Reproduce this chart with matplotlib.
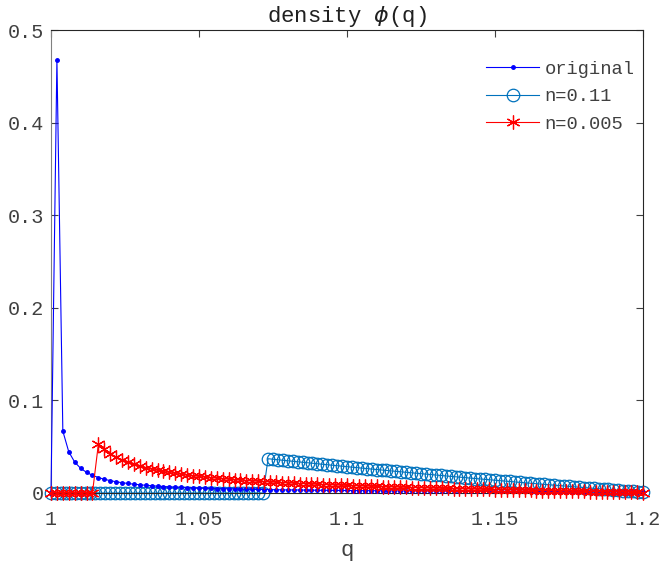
import numpy as np
import matplotlib
matplotlib.use("Agg")
import matplotlib.pyplot as plt

# q grids (step 0.002 for original / n=0.005, step 1/600 for n=0.11)
q_orig = np.linspace(1.0, 1.2, 101)
q_red = np.linspace(1.0, 1.2, 101)
q_blue = np.linspace(1.0, 1.2, 121)

phi_orig = [
    0.0, 0.468, 0.0668, 0.0445, 0.0334, 0.0267, 0.0223, 0.0191, 0.0167, 0.0148,
    0.0134, 0.0121, 0.0111, 0.0103, 0.0095, 0.0089, 0.0083, 0.0079, 0.0074, 0.0070,
    0.0067, 0.0064, 0.0061, 0.0058, 0.0056, 0.0053, 0.0051, 0.0049, 0.0048, 0.0046,
    0.0045, 0.0043, 0.0042, 0.0040, 0.0039, 0.0038, 0.0037, 0.0036, 0.0035, 0.0034,
    0.0033, 0.0033, 0.0032, 0.0031, 0.0030, 0.0030, 0.0029, 0.0028, 0.0028, 0.0027,
    0.0027, 0.0026, 0.0026, 0.0025, 0.0025, 0.0024, 0.0024, 0.0023, 0.0023, 0.0023,
    0.0022, 0.0022, 0.0022, 0.0021, 0.0021, 0.0021, 0.0020, 0.0020, 0.0020, 0.0019,
    0.0019, 0.0019, 0.0019, 0.0018, 0.0018, 0.0018, 0.0018, 0.0017, 0.0017, 0.0017,
    0.0017, 0.0016, 0.0016, 0.0016, 0.0016, 0.0016, 0.0016, 0.0015, 0.0015, 0.0015,
    0.0015, 0.0015, 0.0015, 0.0014, 0.0014, 0.0014, 0.0014, 0.0014, 0.0014, 0.0013,
    0.0013,
]

phi_n011 = [0.0] * 44 + [
    0.0370, 0.03645, 0.03590, 0.03535, 0.03481, 0.03426, 0.03372, 0.03318, 0.03265, 0.03211,
    0.03158, 0.03105, 0.03052, 0.02999, 0.02947, 0.02894, 0.02842, 0.02791, 0.02739, 0.02688,
    0.02636, 0.02585, 0.02535, 0.02484, 0.02433, 0.02383, 0.02333, 0.02284, 0.02234, 0.02185,
    0.02136, 0.02087, 0.02038, 0.01989, 0.01941, 0.01893, 0.01845, 0.01797, 0.01750, 0.01703,
    0.01656, 0.01609, 0.01562, 0.01516, 0.01470, 0.01424, 0.01378, 0.01332, 0.01287, 0.01242,
    0.01197, 0.01152, 0.01107, 0.01063, 0.01019, 0.00975, 0.00931, 0.00888, 0.00844, 0.00801,
    0.00758, 0.00716, 0.00673, 0.00631, 0.00589, 0.00547, 0.00505, 0.00464, 0.00422, 0.00381,
    0.00341, 0.00300, 0.00260, 0.00219, 0.00179, 0.00140, 0.00100,
]

phi_n0005 = [0.0] * 8 + [
    0.0526, 0.04705, 0.04260, 0.03895, 0.03589, 0.03329, 0.03105, 0.02910, 0.02739, 0.02586,
    0.02450, 0.02328, 0.02216, 0.02115, 0.02023, 0.01937, 0.01859, 0.01786, 0.01717, 0.01654,
    0.01594, 0.01539, 0.01486, 0.01436, 0.01389, 0.01345, 0.01302, 0.01262, 0.01223, 0.01186,
    0.01151, 0.01116, 0.01084, 0.01052, 0.01022, 0.00993, 0.00965, 0.00938, 0.00911, 0.00885,
    0.00861, 0.00836, 0.00813, 0.00790, 0.00768, 0.00746, 0.00725, 0.00704, 0.00685, 0.00664,
    0.00645, 0.00627, 0.00608, 0.00590, 0.00571, 0.00554, 0.00538, 0.00520, 0.00504, 0.00488,
    0.00471, 0.00456, 0.00440, 0.00425, 0.00410, 0.00395, 0.00380, 0.00366, 0.00351, 0.00338,
    0.00323, 0.00310, 0.00297, 0.00282, 0.00269, 0.00257, 0.00243, 0.00231, 0.00217, 0.00205,
    0.00193, 0.00180, 0.00168, 0.00155, 0.00143, 0.00132, 0.00119, 0.00108, 0.00096, 0.00084,
    0.00073, 0.00061, 0.00050,
]

x_ticks = [1, 1.05, 1.1, 1.15, 1.2]
x_labels = ["1", "1.05", "1.1", "1.15", "1.2"]
y_ticks = [0, 0.1, 0.2, 0.3, 0.4, 0.5]
y_labels = ["0", "0.1", "0.2", "0.3", "0.4", "0.5"]

plt.rcParams['font.family'] = ['Liberation Mono', 'DejaVu Sans Mono']

fig = plt.figure(figsize=(6.64, 5.64), dpi=100)
ax = fig.add_axes([0.0768, 0.1259, 0.8916, 0.8209])

ax.plot(q_orig, phi_orig, color='#0000ff', marker='.', markersize=5, lw=0.8,
        label='original', clip_on=False, zorder=3)
ax.plot(q_blue, phi_n011, color='#0072bd', marker='o', markersize=9,
        markerfacecolor='none', markeredgewidth=0.9, lw=0.8, label='n=0.11',
        clip_on=False, zorder=2)
ax.plot(q_red, phi_n0005, color='#ff0000', marker=(6, 2, 0), markersize=10,
        markeredgewidth=0.9, lw=0.8, label='n=0.005', clip_on=False, zorder=4)

ax.set_xlim(1, 1.2)
ax.set_ylim(0, 0.5)
ax.set_xticks(x_ticks)
ax.set_xticklabels(x_labels)
ax.set_yticks(y_ticks)
ax.set_yticklabels(y_labels)
ax.tick_params(direction='in', top=True, right=True, length=5, width=0.8,
               labelsize=14.5, colors='#404040')
ax.tick_params(axis='x', pad=12)
ax.tick_params(axis='y', pad=5)
for side in ['top', 'right', 'bottom']:
    ax.spines[side].set_color('#262626')
    ax.spines[side].set_linewidth(0.8)
ax.spines['left'].set_color('#808080')
ax.spines['left'].set_linewidth(0.8)

ax.set_xlabel('q', fontsize=16, color='#404040', labelpad=8)
ax.set_title(r'density $\phi$(q)', fontsize=16, color='#202020', pad=6)

leg = ax.legend(loc='upper right', frameon=False, fontsize=13.5, handlelength=2.8,
                bbox_to_anchor=(1.014, 0.97), labelspacing=0.55, handletextpad=0.3)
for t in leg.get_texts():
    t.set_color('#404040')

fig.savefig('out.png', dpi=100)
